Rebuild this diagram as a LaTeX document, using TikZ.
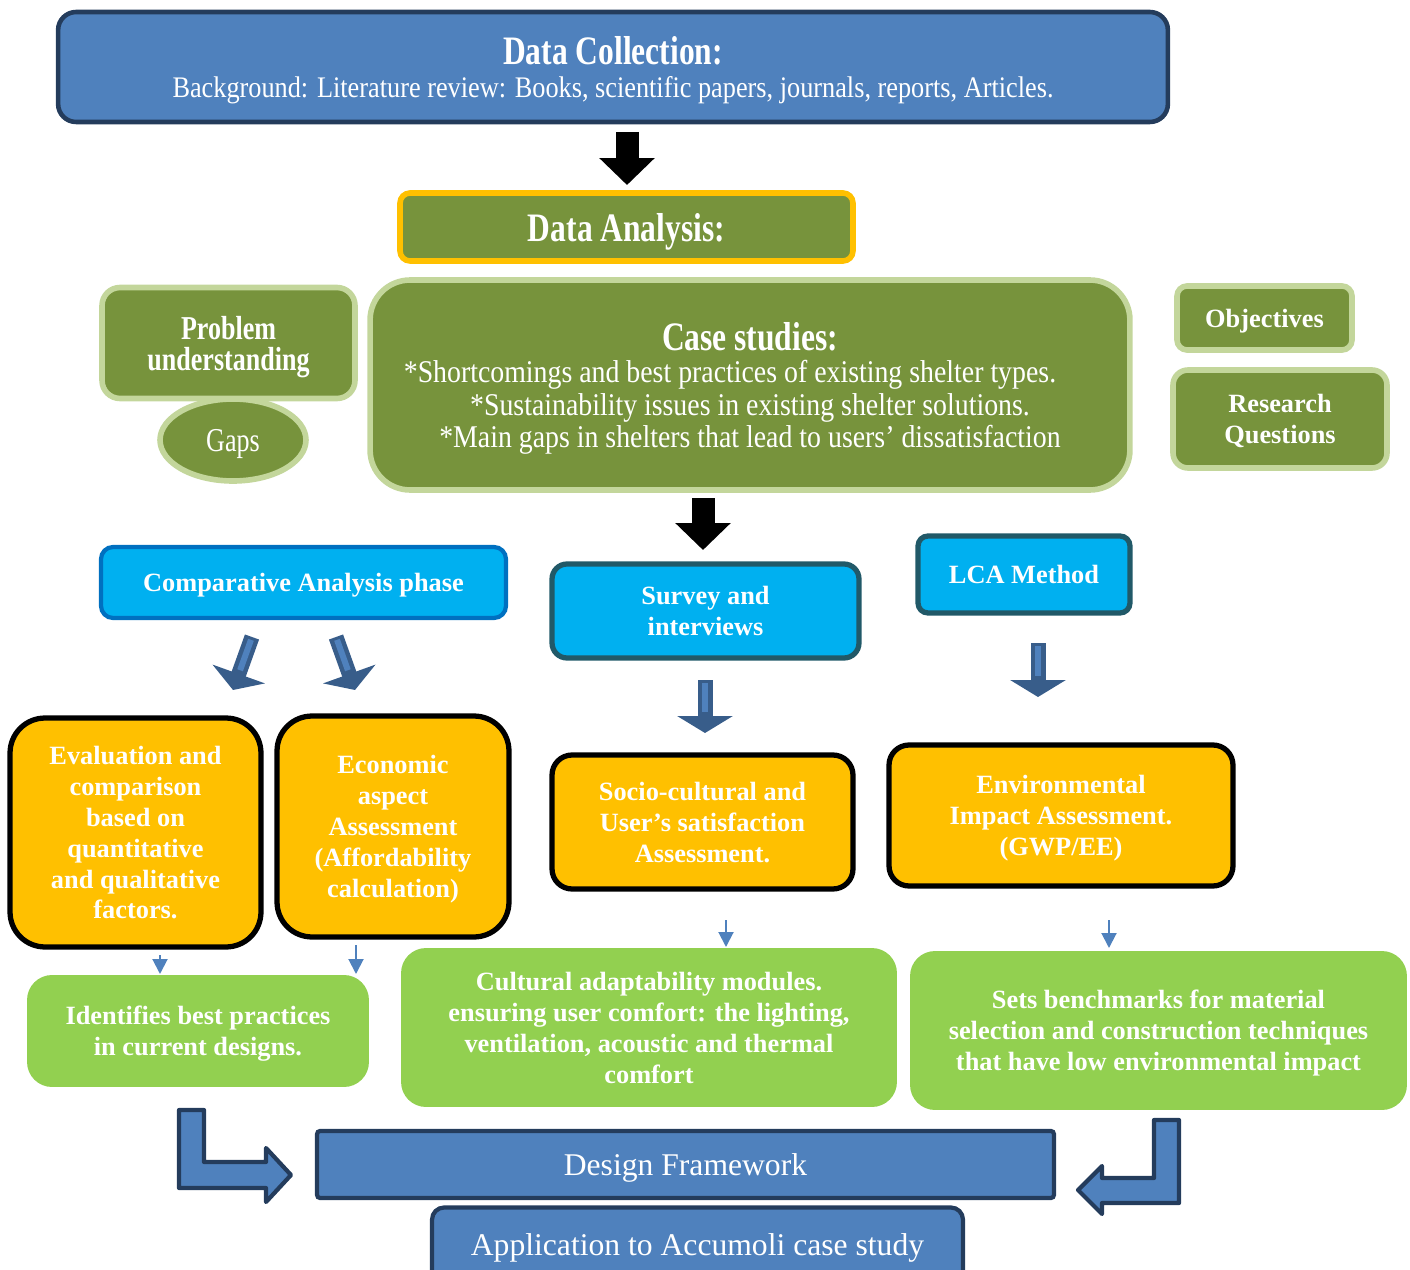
\documentclass[tikz,border=0pt]{standalone}
\usepackage{fontspec}
\setmainfont{Liberation Serif}
\newfontfamily\condfont{Liberation Serif}[FakeStretch=0.78]
\newfontfamily\semifont{Liberation Serif}[FakeStretch=0.88]
\usepackage{tikz}
\usetikzlibrary{arrows.meta}
\usetikzlibrary{shapes.geometric}
\usepackage{xcolor}
\definecolor{ColBlue}{RGB}{79,129,189}
\definecolor{ColNavy}{RGB}{36,60,92}
\definecolor{ColOlive}{RGB}{119,147,60}
\definecolor{ColPale}{RGB}{195,214,155}
\definecolor{ColGold}{RGB}{255,192,0}
\definecolor{ColCyan}{RGB}{0,176,240}
\definecolor{ColSky}{RGB}{0,112,192}
\definecolor{ColTeal}{RGB}{33,89,104}
\definecolor{ColGreen}{RGB}{146,208,80}
\definecolor{ColArrowDark}{RGB}{56,93,138}
\newcommand{\MidFont}{\fontsize{15}{17.6}\selectfont\bfseries}
\tikzstyle{BoxBase}=[align=center,text=white,inner sep=2pt,text depth=0pt]
\tikzstyle{BlueBox}=[BoxBase,fill=ColBlue,draw=ColNavy,line width=2.6pt]
\tikzstyle{OliveBox}=[BoxBase,fill=ColOlive,draw=ColPale,line width=3.2pt]
\tikzstyle{CyanBox}=[BoxBase,fill=ColCyan,draw=ColTeal,line width=3pt,font=\MidFont]
\tikzstyle{OrangeBox}=[BoxBase,fill=ColGold,draw=black,line width=3pt,font=\MidFont]
\tikzstyle{GreenBox}=[BoxBase,fill=ColGreen,font=\MidFont]
\tikzstyle{BlackArrow}=[line width=0.46cm,-{Triangle[length=0.54cm,width=1.08cm]}]
\tikzstyle{BlueArrowOut}=[ColArrowDark,line width=0.3cm,-{Triangle[length=0.34cm,width=1.1cm]}]
\tikzstyle{BlueArrowIn}=[ColBlue,line width=0.12cm,shorten <=0.06cm,shorten >=0.42cm]
\tikzstyle{ThinArrow}=[ColBlue,line width=0.04cm,-{Triangle[length=0.3cm,width=0.3cm]}]
\tikzstyle{BendArrow}=[fill=ColBlue,draw=ColNavy,line width=2.4pt,line join=round]

\begin{document}
\begin{tikzpicture}[x=0.02cm,y=-0.02cm]
    \clip (0,0) rectangle (1410,1270);
    % data collection and analysis
    \node[BlueBox,minimum width=22.2cm,minimum height=2.2cm,rounded corners=0.36cm](collect)at(613,67)
        {{\condfont\fontsize{23}{26}\selectfont\bfseries Data Collection:}\\[5pt]
         {\semifont\fontsize{17}{20}\selectfont Background: Literature review: Books, scientific papers, journals, reports, Articles.}};
    \node[OliveBox,draw=ColGold,minimum width=9.06cm,minimum height=1.36cm,rounded corners=0.2cm,
        font=\condfont\fontsize{23}{26}\selectfont\bfseries](analysis)at(626.5,227){Data Analysis:};
    \coordinate (ka) at (627,132);
    \coordinate (kb) at (627,185);
    \draw[BlackArrow](ka)--(kb);
    % green row
    \node[OliveBox,minimum width=5.06cm,minimum height=2.22cm,rounded corners=0.36cm,
        font=\condfont\fontsize{19}{17.6}\selectfont\bfseries](problem)at(228.5,343){Problem\\understanding};
    \node[OliveBox,ellipse,minimum width=2.92cm,minimum height=1.64cm,
        font=\condfont\fontsize{19}{22}\selectfont](gaps)at(233,440){Gaps};
    \node[OliveBox,minimum width=15.2cm,minimum height=4.2cm,rounded corners=0.8cm,
        font=\semifont\fontsize{18}{18.5}\selectfont](cases)at(750,385)
        {{\condfont\fontsize{23}{26}\selectfont\bfseries Case studies:}\\[0pt]
         {*}Shortcomings and best practices of existing shelter types.\rule{0.8cm}{0pt}\\
         {*}Sustainability issues in existing shelter solutions.\\
         {*}Main gaps in shelters that lead to users’ dissatisfaction};
    \node[OliveBox,minimum width=3.5cm,minimum height=1.28cm,rounded corners=0.2cm,font=\MidFont](objectives)at(1264.5,318){Objectives};
    \node[OliveBox,minimum width=4.28cm,minimum height=1.96cm,rounded corners=0.3cm,font=\MidFont](questions)at(1280,419){Research\\Questions};
    \coordinate (kc) at (703,498);
    \coordinate (kd) at (703,550);
    \draw[BlackArrow](kc)--(kd);
    % methods
    \node[CyanBox,draw=ColSky,line width=2.4pt,minimum width=8.1cm,minimum height=1.42cm,rounded corners=0.24cm](compare)at(303.5,582.5){Comparative Analysis phase};
    \node[CyanBox,minimum width=6.14cm,minimum height=1.88cm,rounded corners=0.3cm](survey)at(705.5,611){Survey and\\interviews};
    \node[CyanBox,minimum width=4.24cm,minimum height=1.54cm,rounded corners=0.2cm](lca)at(1024,574.5){LCA Method};
    \coordinate (la) at (252,637);
    \coordinate (lb) at (233,690);
    \coordinate (ra) at (336,637);
    \coordinate (rb) at (355,690);
    \coordinate (sa) at (705,680);
    \coordinate (sb) at (705,733);
    \coordinate (ea) at (1038,643);
    \coordinate (eb) at (1038,697);
    \foreach \s/\e in {la/lb,ra/rb,sa/sb,ea/eb}{
        \draw[BlueArrowOut](\s)--(\e);
        \draw[BlueArrowIn](\s)--(\e);
    }
    % assessments
    \node[OrangeBox,minimum width=5.02cm,minimum height=4.58cm,rounded corners=0.7cm](evaluation)at(135.5,832.5)
        {Evaluation and\\comparison\\based on\\quantitative\\and qualitative\\factors.};
    \node[OrangeBox,minimum width=4.64cm,minimum height=4.42cm,rounded corners=0.7cm](economic)at(393,826.5)
        {Economic\\aspect\\Assessment\\(Affordability\\calculation)};
    \node[OrangeBox,minimum width=6.02cm,minimum height=2.68cm,rounded corners=0.4cm](socio)at(702.5,822)
        {Socio-cultural and\\User’s satisfaction\\Assessment.};
    \node[OrangeBox,minimum width=6.88cm,minimum height=2.82cm,rounded corners=0.4cm](environ)at(1061,815.5)
        {Environmental\\Impact Assessment.\\(GWP/EE)};
    % outcomes
    \node[GreenBox,minimum width=6.84cm,minimum height=2.24cm,rounded corners=0.5cm](identify)at(198,1031)
        {Identifies best practices\\in current designs.};
    \node[GreenBox,minimum width=9.92cm,minimum height=3.18cm,rounded corners=0.5cm](cultural)at(649,1027.5)
        {Cultural adaptability modules.\\ensuring user comfort: the lighting,\\ventilation, acoustic and thermal\\comfort};
    \node[GreenBox,minimum width=9.94cm,minimum height=3.18cm,rounded corners=0.5cm](benchmark)at(1158.5,1030.5)
        {Sets benchmarks for material\\selection and construction techniques\\that have low environmental impact};
    \coordinate (ta) at (160,955);
    \coordinate (tb) at (160,974);
    \coordinate (tc) at (356,945);
    \coordinate (td) at (356,974);
    \coordinate (te) at (726,920);
    \coordinate (tf) at (726,947);
    \coordinate (tg) at (1109,920);
    \coordinate (th) at (1109,948);
    \foreach \s/\e in {ta/tb,tc/td,te/tf,tg/th}{
        \draw[ThinArrow](\s)--(\e);
    }
    % framework
    \node[BlueBox,line width=2.4pt,minimum width=14.74cm,minimum height=1.34cm,rounded corners=0.06cm,
        font=\fontsize{18}{21}\selectfont](framework)at(685.5,1164.5){Design Framework};
    \node[BlueBox,line width=2.4pt,minimum width=10.62cm,minimum height=1.5cm,rounded corners=0.24cm,
        font=\fontsize{18}{21}\selectfont](apply)at(697.5,1245){Application to Accumoli case study};
    \draw[BendArrow](179,1110)--(204,1110)--(204,1162)--(266,1162)--(266,1148)--(291,1175)
        --(266,1202)--(266,1188)--(179,1188)--cycle;
    \draw[BendArrow](1179,1120)--(1154,1120)--(1154,1178)--(1102,1178)--(1102,1166)--(1078,1190)
        --(1102,1214)--(1102,1203)--(1179,1203)--cycle;
\end{tikzpicture}
\end{document}
